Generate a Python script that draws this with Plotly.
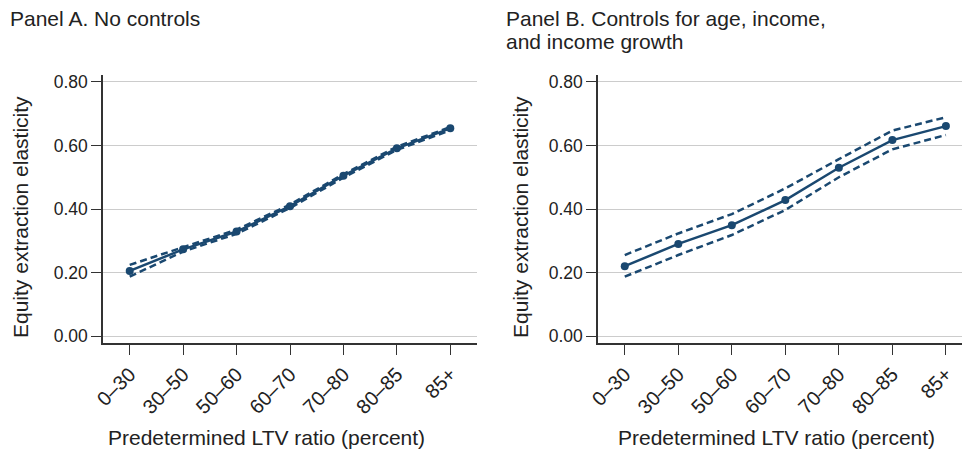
import plotly.graph_objects as go

categories = ["0–30", "30–50", "50–60", "60–70", "70–80", "80–85", "85+"]

a_est = [0.205, 0.273, 0.329, 0.409, 0.505, 0.591, 0.654]
a_hi = [0.224, 0.280, 0.335, 0.414, 0.510, 0.596, 0.658]
a_lo = [0.187, 0.266, 0.322, 0.403, 0.499, 0.586, 0.648]

b_est = [0.220, 0.290, 0.349, 0.428, 0.530, 0.617, 0.661]
b_hi = [0.255, 0.323, 0.384, 0.465, 0.557, 0.647, 0.689]
b_lo = [0.187, 0.255, 0.318, 0.397, 0.500, 0.588, 0.633]

yticks = [0.0, 0.2, 0.4, 0.6, 0.8]
yticklabels = ["0.00", "0.20", "0.40", "0.60", "0.80"]

NAVY = "#1a4870"
OFF = 8  # page body margin
W, H = 970 - OFF, 453 - OFF


def px(x):
    return (x - OFF) / W


def py(y):
    return 1 - (y - OFF) / H


fig = go.Figure()
xs = list(range(len(categories)))

for est, hi, lo, xa, ya in [(a_est, a_hi, a_lo, "x", "y"), (b_est, b_hi, b_lo, "x2", "y2")]:
    fig.add_trace(go.Scatter(x=xs, y=hi, mode="lines", line=dict(color=NAVY, width=2.5, dash="7px,4px"),
                             xaxis=xa, yaxis=ya, showlegend=False))
    fig.add_trace(go.Scatter(x=xs, y=lo, mode="lines", line=dict(color=NAVY, width=2.5, dash="7px,4px"),
                             xaxis=xa, yaxis=ya, showlegend=False))
    fig.add_trace(go.Scatter(x=xs, y=est, mode="lines+markers", line=dict(color=NAVY, width=2.5),
                             marker=dict(color=NAVY, size=8), xaxis=xa, yaxis=ya, showlegend=False))

font = dict(family="Liberation Sans, Arial, sans-serif", size=17.5, color="#222")
xfont = dict(family="Liberation Sans, Arial, sans-serif", size=20, color="#222")


def xaxis(domain, rng, anchor):
    return dict(domain=domain, range=rng, anchor=anchor, tickmode="array", tickvals=xs,
                ticktext=categories, tickangle=-45, ticks="outside", ticklen=10, tickwidth=1.3,
                tickcolor="#333", showline=True, linecolor="#333", linewidth=1.5,
                showgrid=False, zeroline=False, tickfont=xfont, automargin=False)


def yaxis(domain, anchor):
    return dict(domain=domain, range=[-0.022, 0.822], anchor=anchor, tickmode="array",
                tickvals=yticks, ticktext=yticklabels, ticks="outside", ticklen=10, tickwidth=1.3,
                tickcolor="#333", showline=True, linecolor="#333", linewidth=1.5,
                showgrid=True, gridcolor="#cccccc", gridwidth=1.2, zeroline=False, tickfont=font,
                automargin=False)


ydom = [py(343), py(75)]
fig.update_layout(
    width=W, height=H, margin=dict(l=0, r=0, t=0, b=0, autoexpand=False),
    plot_bgcolor="white", paper_bgcolor="white", font=font,
    xaxis=xaxis([px(103), px(477)], [-0.5, 6.5], "y"),
    yaxis=yaxis(ydom, "x"),
    xaxis2=xaxis([px(598), 1.0], [-0.5, 6.45], "y2"),
    yaxis2=yaxis(ydom, "x2"),
)

tfont = dict(family="Liberation Sans, Arial, sans-serif", size=21, color="#222")
ann = [
    dict(text="Panel A. No controls", x=px(8), y=py(18), xanchor="left", yanchor="middle", align="left"),
    dict(text="Panel B. Controls for age, income,", x=px(504), y=py(18), xanchor="left", yanchor="middle"),
    dict(text="and income growth", x=px(504), y=py(42), xanchor="left", yanchor="middle"),
    dict(text="Predetermined LTV ratio (percent)", x=px(266), y=py(437), xanchor="center", yanchor="middle"),
    dict(text="Predetermined LTV ratio (percent)", x=px(776), y=py(437), xanchor="center", yanchor="middle"),
    dict(text="Equity extraction elasticity", x=px(21), y=py(217), textangle=-90, xanchor="center", yanchor="middle"),
    dict(text="Equity extraction elasticity", x=px(521), y=py(217), textangle=-90, xanchor="center", yanchor="middle"),
]
for a in ann:
    a.update(xref="paper", yref="paper", showarrow=False, font=tfont)
fig.update_layout(annotations=ann)

fig.write_html("out.html")
